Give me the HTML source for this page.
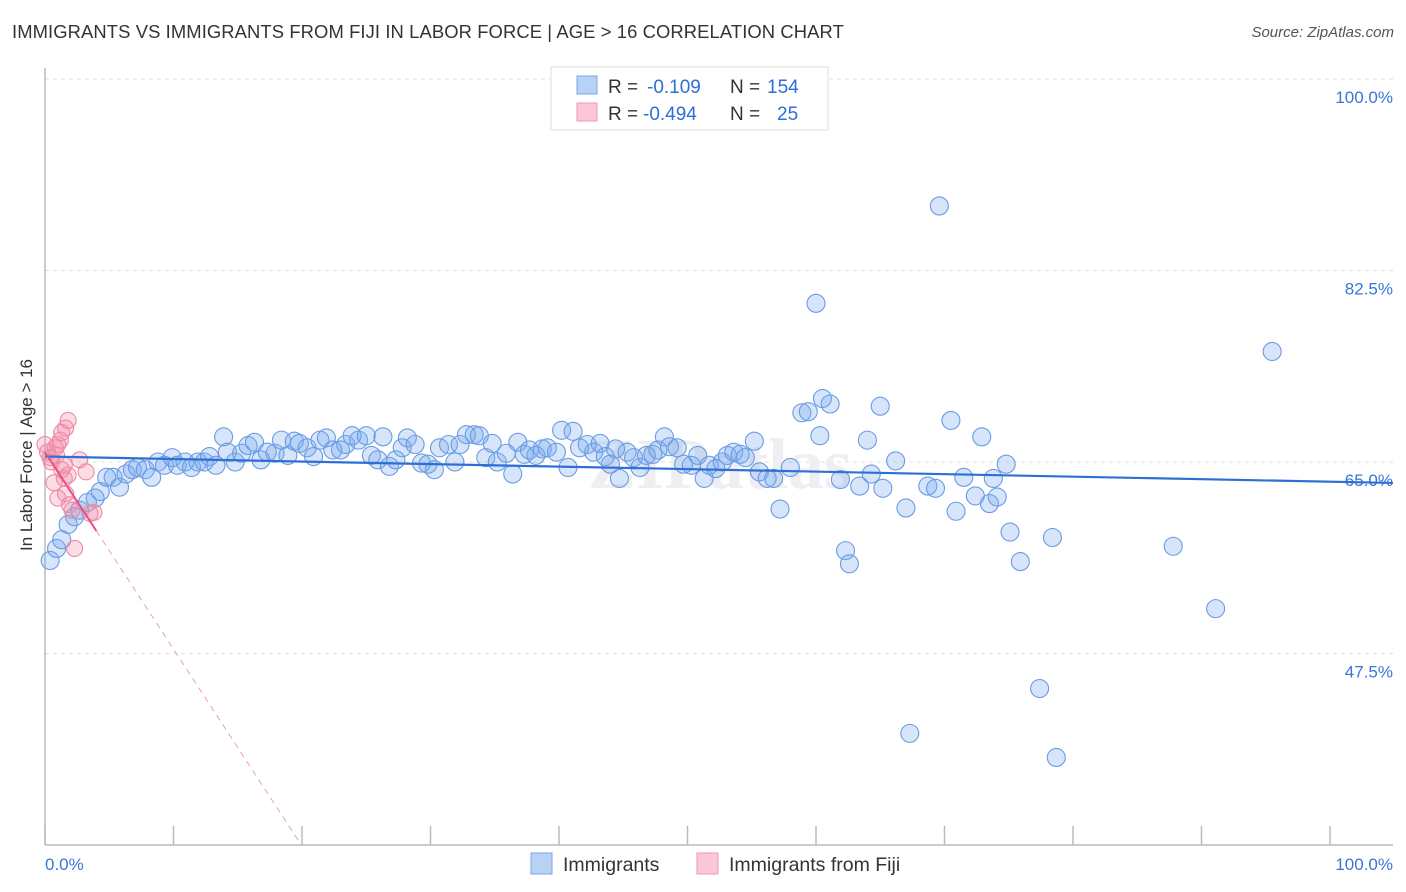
<!DOCTYPE html>
<html><head><meta charset="utf-8">
<style>
body{margin:0;background:#fff;font-family:"Liberation Sans",sans-serif;}
#wrap{position:relative;width:1406px;height:892px;overflow:hidden;}
.title{position:absolute;left:12px;top:21px;font-size:18.4px;color:#333;letter-spacing:.1px}
.source{position:absolute;right:12px;top:24px;font-size:15px;color:#555;font-style:italic}
</style></head><body>
<div id="wrap">
<div class="title">IMMIGRANTS VS IMMIGRANTS FROM FIJI IN LABOR FORCE | AGE &gt; 16 CORRELATION CHART</div>
<div class="source">Source: ZipAtlas.com</div>
<svg id="chart" width="1406" height="892" style="position:absolute;left:0;top:0"></svg>
</div>
<script>
const blueX=[0.4,0.9,1.3,1.8,2.3,2.7,3.3,3.9,4.3,4.8,5.3,5.8,6.3,6.8,7.2,7.8,8.3,8.8,9.3,9.9,10.3,10.9,11.4,11.9,12.4,12.8,13.3,13.9,14.2,14.8,15.3,15.8,16.3,16.8,17.3,17.9,18.4,18.9,19.4,19.8,20.4,20.9,21.4,21.9,22.4,23.0,23.4,23.9,24.4,25.0,25.4,25.9,26.3,26.8,27.3,27.8,28.2,28.8,29.3,29.8,30.3,30.7,31.4,31.9,32.3,32.8,33.4,33.8,34.3,34.8,35.2,35.9,36.4,36.8,37.3,37.7,38.2,38.7,39.1,39.8,40.2,40.7,41.1,41.6,42.2,42.7,43.2,43.6,44.0,44.4,44.7,45.3,45.8,46.3,46.8,47.3,47.7,48.2,48.6,49.2,49.7,50.3,50.8,51.3,51.7,52.2,52.7,53.1,53.6,54.1,54.5,55.2,55.6,56.2,56.7,57.2,58.0,58.9,59.4,60.0,60.3,60.5,61.1,61.9,62.3,62.6,63.4,64.0,64.3,65.0,65.2,66.2,67.0,67.3,68.7,69.3,69.6,70.5,70.9,71.5,72.4,72.9,73.5,73.8,74.1,74.8,75.1,75.9,77.4,78.4,78.7,87.8,91.1,95.5];
const blueY=[56.0,57.1,57.9,59.3,60.0,60.6,61.3,61.7,62.3,63.6,63.6,62.7,63.9,64.3,64.5,64.3,63.6,65.0,64.7,65.4,64.7,65.0,64.5,65.0,65.0,65.5,64.7,67.3,65.9,65.0,65.8,66.5,66.8,65.2,65.9,65.8,67.0,65.6,66.9,66.7,66.3,65.5,67.0,67.2,66.1,66.1,66.6,67.4,67.0,67.4,65.6,65.2,67.3,64.6,65.2,66.3,67.2,66.6,64.9,64.8,64.3,66.3,66.6,65.0,66.6,67.5,67.5,67.4,65.4,66.7,65.0,65.8,63.9,66.8,65.7,66.1,65.6,66.2,66.3,65.9,67.9,64.5,67.8,66.3,66.6,65.9,66.7,65.5,64.8,66.2,63.5,65.9,65.4,64.5,65.6,65.7,66.1,67.3,66.4,66.3,64.8,64.7,65.6,63.5,64.7,64.4,65.0,65.6,65.9,65.7,65.4,66.9,64.1,63.5,63.5,60.7,64.5,69.5,69.6,79.5,67.4,70.8,70.3,63.4,56.9,55.7,62.8,67.0,63.9,70.1,62.6,65.1,60.8,40.2,62.8,62.6,88.4,68.8,60.5,63.6,61.9,67.3,61.2,63.5,61.8,64.8,58.6,55.9,44.3,58.1,38.0,57.3,51.6,75.1];
const pinkX=[0.0,0.2,0.4,0.5,0.8,0.9,1.0,1.2,1.3,1.5,1.6,1.8,0.7,1.0,1.3,1.5,1.6,1.8,1.9,2.1,2.3,2.7,3.2,3.5,3.8];
const pinkY=[66.6,65.9,65.4,65.0,66.3,65.6,66.6,67.0,67.7,64.7,68.1,68.8,63.1,61.7,64.3,63.5,62.1,63.8,61.1,60.6,57.1,65.2,64.1,60.3,60.4];
const blueTrend=[65.5,63.2];
const pinkTrend=[65.9,-1.80];
const yTicks=[100.0,82.5,65.0,47.5];
const xTickVals=[0,10,20,30,40,50,60,70,80,90,100];

const NS="http://www.w3.org/2000/svg";
const svg=document.getElementById('chart');
const X=v=>45+v*12.85;
const Y=v=>462-(v-65)*191.5/17.5;
function mk(t,a,p){const e=document.createElementNS(NS,t);for(const k in a)e.setAttribute(k,a[k]);(p||svg).appendChild(e);return e;}

yTicks.forEach(v=>{
 const g=mk('line',{x1:45,x2:1393,y1:Y(v),y2:Y(v),stroke:'#ddd','stroke-dasharray':'4,4'});
 
 
 const t=mk('text',{x:1393,y:Y(v)+24,'text-anchor':'end','font-size':'17',fill:'#3b76d6','font-family':'Liberation Sans, sans-serif'});
 t.textContent=v.toFixed(1)+'%';
 
 
});
const ya=mk('line',{x1:45,x2:45,y1:68,y2:845,stroke:'#bbb','stroke-width':1.5});


const xa=mk('line',{x1:45,x2:1393,y1:845,y2:845,stroke:'#bbb','stroke-width':1.5});


xTickVals.forEach(v=>{
 const l=mk('line',{x1:X(v),x2:X(v),y1:826,y2:845,stroke:'#bbb','stroke-width':1.5});
 
 
});
const wm=mk('text',{x:720,y:488,'text-anchor':'middle','font-size':'72','font-weight':'bold',fill:'#eeeef3','font-family':'Liberation Serif, serif'});
wm.textContent='ZIPatlas';



blueX.forEach((x,i)=>{
 const c=mk('circle',{cx:X(x),cy:Y(blueY[i]),r:9,fill:'rgba(120,168,238,0.3)',stroke:'#6a9be4','stroke-width':1.1});
 
 
});
pinkX.forEach((x,i)=>{
 const c=mk('circle',{cx:X(x),cy:Y(pinkY[i]),r:8,fill:'rgba(245,140,170,0.3)',stroke:'#ec8aa6','stroke-width':1.1});
 
 
});
const bt=mk('line',{x1:X(0),y1:Y(blueTrend[0]),x2:1393,y2:Y(blueTrend[0]+(blueTrend[1]-blueTrend[0])*(1393-45)/1285),stroke:'#2e6fd6','stroke-width':2.2});


const pEnd=(30-pinkTrend[0])/pinkTrend[1];
const ps=mk('line',{x1:X(0),y1:Y(pinkTrend[0]),x2:X(4),y2:Y(pinkTrend[0]+pinkTrend[1]*4),stroke:'#e8527f','stroke-width':2});


const pd=mk('line',{x1:X(4),y1:Y(pinkTrend[0]+pinkTrend[1]*4),x2:X(pEnd),y2:Y(30),stroke:'#e8a0b4','stroke-width':1,'stroke-dasharray':'6,5'});



const xl0=mk('text',{x:45,y:870,'font-size':'17',fill:'#3b76d6','font-family':'Liberation Sans, sans-serif'});
xl0.textContent='0.0%';


const xl1=mk('text',{x:1393,y:870,'text-anchor':'end','font-size':'17',fill:'#3b76d6','font-family':'Liberation Sans, sans-serif'});
xl1.textContent='100.0%';


const yt=mk('text',{transform:'translate(32,455) rotate(-90)','text-anchor':'middle','font-size':'17',fill:'#333','font-family':'Liberation Sans, sans-serif'});
yt.textContent='In Labor Force | Age > 16';



const lg=mk('g',{});


mk('rect',{x:551,y:67,width:277,height:63,fill:'#fff',stroke:'#ddd'},lg);
mk('rect',{x:577,y:76,width:20,height:18,fill:'#b8d2f6',stroke:'#7aa6e6'},lg);
mk('rect',{x:577,y:103,width:20,height:18,fill:'#fac8d6',stroke:'#ec9ab4'},lg);
function txt(x,y,s,c,p,fs){const t=mk('text',{x:x,y:y,'font-size':fs||'19',fill:c,'font-family':'Liberation Sans, sans-serif'},p);t.textContent=s;return t;}
txt(608,93,'R = ','#333',lg);txt(647,93,'-0.109','#2e6fd6',lg);txt(730,93,'N = ','#333',lg);txt(767,93,'154','#2e6fd6',lg);
txt(608,120,'R = ','#333',lg);txt(643,120,'-0.494','#2e6fd6',lg);txt(730,120,'N = ','#333',lg);txt(777,120,'25','#2e6fd6',lg);

const bl=mk('g',{});


const b1=mk('rect',{x:531,y:853,width:21,height:21,fill:'#b8d2f6',stroke:'#7aa6e6'},bl);


txt(563,871,'Immigrants','#333',bl,'19.5');
const b2=mk('rect',{x:697,y:853,width:21,height:21,fill:'#fac8d6',stroke:'#ec9ab4'},bl);


txt(729,871,'Immigrants from Fiji','#333',bl,'19.5');
</script>
</body></html>
